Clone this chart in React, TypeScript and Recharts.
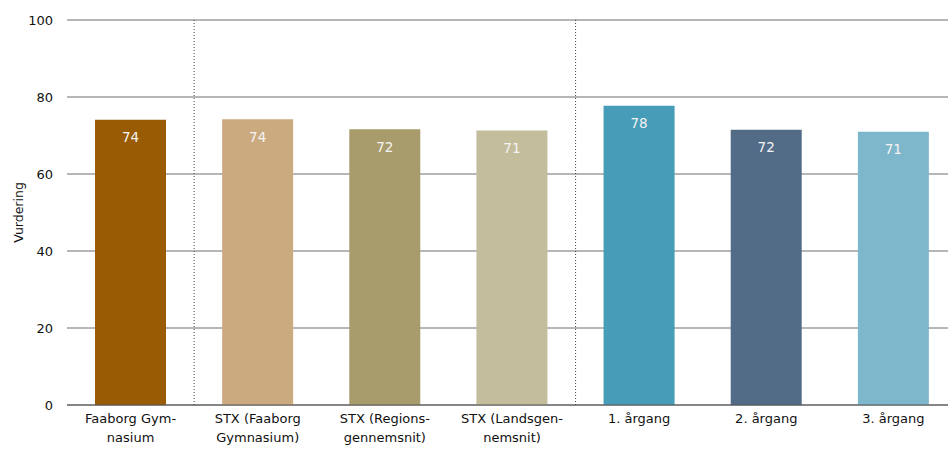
import React from "react";
import {
  BarChart,
  Bar,
  XAxis,
  YAxis,
  CartesianGrid,
  Cell,
  LabelList,
  ReferenceLine,
} from "recharts";

const categories = [
  "Faaborg Gym-\nnasium",
  "STX (Faaborg\nGymnasium)",
  "STX (Regions-\ngennemsnit)",
  "STX (Landsgen-\nnemsnit)",
  "1. årgang",
  "2. årgang",
  "3. årgang",
];
const values = [74.1, 74.2, 71.6, 71.3, 77.7, 71.5, 71.0];
const barColors = ["#9a5b05", "#ccaa80", "#a99c6c", "#c4bd9b", "#479cb8", "#526c88", "#7eb6cb"];
const yTicks = [0, 20, 40, 60, 80, 100];
// first category of each new group gets a dotted divider before it
const groupStarts = [categories[1], categories[4]];

const FONT = "'DejaVu Sans', Verdana, sans-serif";

const chartData = categories.map((name, i) => ({ name, value: values[i] }));

function XTick({ x, y, payload }: any) {
  const lines = String(payload.value).split("\n");
  return (
    <text x={x} y={y + 10} textAnchor="middle" fontSize={13} fontFamily={FONT} fill="#111">
      {lines.map((l, i) => (
        <tspan key={i} x={x} dy={i === 0 ? 0 : 19}>
          {l}
        </tspan>
      ))}
    </text>
  );
}

export default function App() {
  return (
    <div
      style={{
        position: "fixed",
        left: 0,
        top: 0,
        width: 948,
        height: 450,
        overflow: "hidden",
        background: "#fff",
      }}
    >
      <BarChart
        width={957}
        height={450}
        data={chartData}
        margin={{ top: 20, right: 0, bottom: 0, left: 0 }}
      >
        <CartesianGrid vertical={false} stroke="#6e6e6e" />
        <XAxis
          dataKey="name"
          height={45}
          interval={0}
          axisLine={{ stroke: "#555" }}
          tickLine={false}
          tick={<XTick />}
        />
        <YAxis
          domain={[0, 100]}
          ticks={yTicks}
          width={67}
          axisLine={false}
          tickLine={false}
          tickSize={10}
          tickMargin={4}
          tick={{ fontSize: 13, fill: "#111", fontFamily: FONT }}
          label={({ viewBox }: any) => (
            <text
              x={18}
              y={viewBox.y + viewBox.height / 2}
              transform={`rotate(-90, 18, ${viewBox.y + viewBox.height / 2})`}
              textAnchor="middle"
              dominantBaseline="central"
              fontSize={12.5}
              fontFamily={FONT}
              fill="#111"
            >
              Vurdering
            </text>
          )}
        />
        {groupStarts.map((c) => (
          <ReferenceLine key={c} x={c} position="start" stroke="#444" strokeDasharray="1 2" />
        ))}
        <Bar dataKey="value" barSize={71} isAnimationActive={false}>
          {chartData.map((d, i) => (
            <Cell key={i} fill={barColors[i]} />
          ))}
          <LabelList
            dataKey="value"
            position="insideTop"
            offset={13}
            formatter={(v: any) => Math.round(Number(v))}
            style={{ fill: "#f4f4f4", fontSize: 13.5, fontFamily: FONT }}
          />
        </Bar>
      </BarChart>
    </div>
  );
}
